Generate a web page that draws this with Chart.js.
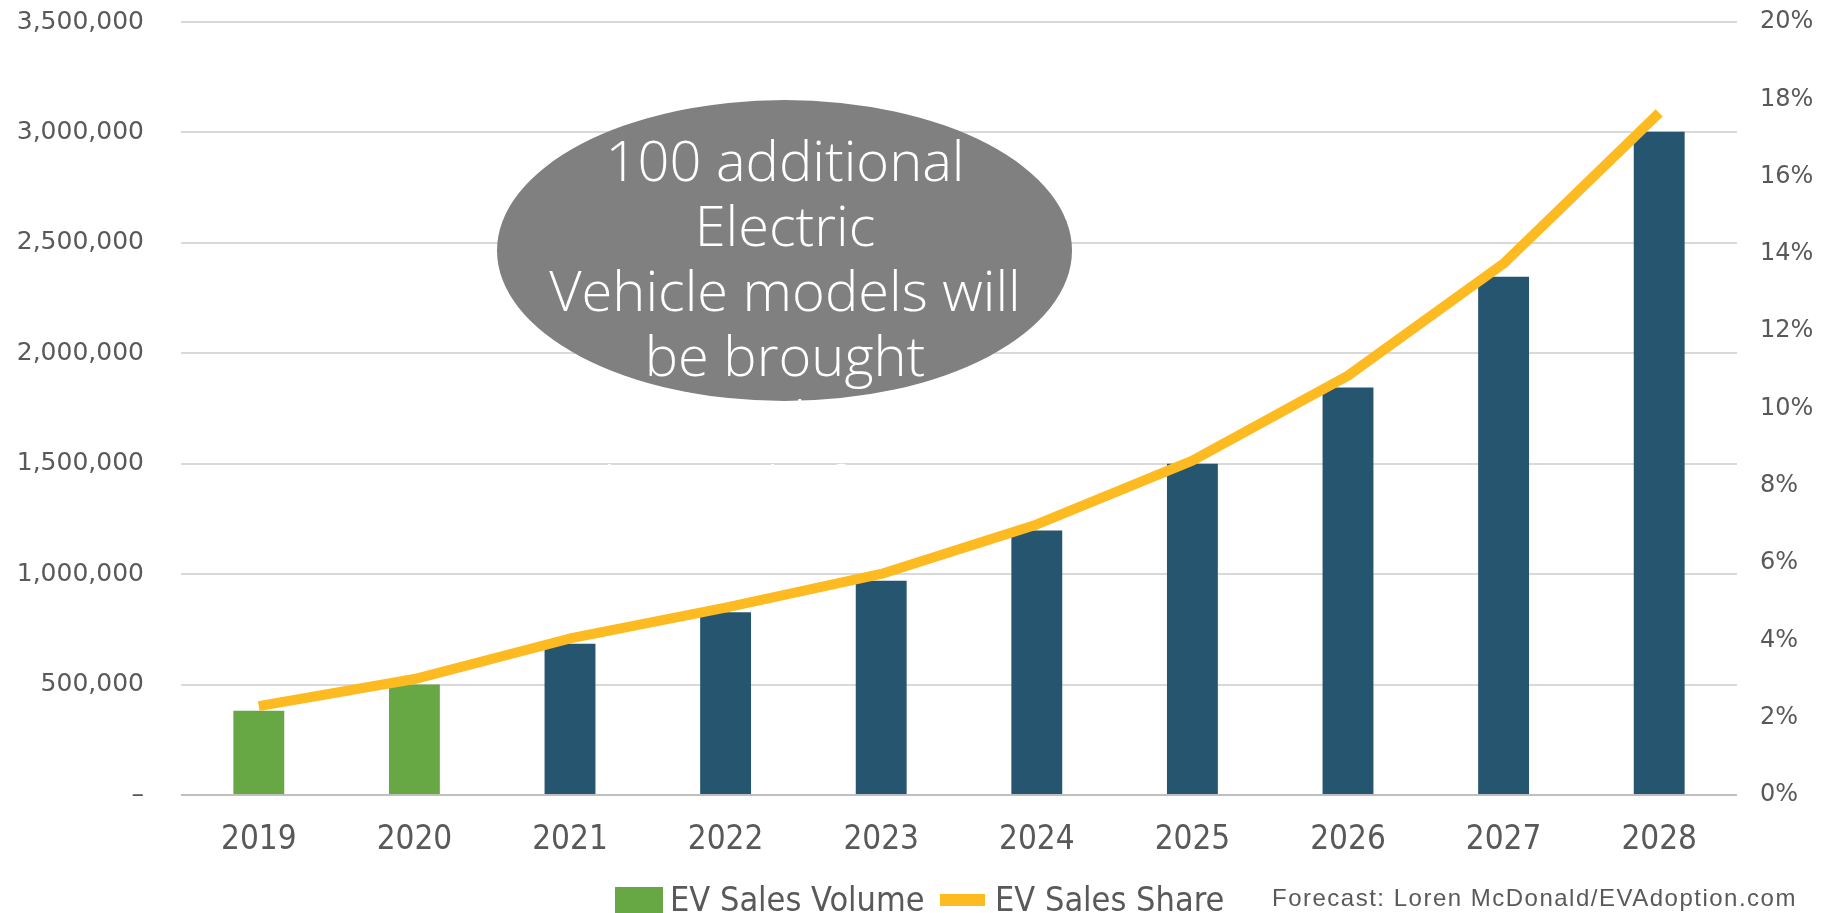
<!DOCTYPE html>
<html>
<head>
<meta charset="utf-8">
<title>EV Sales Forecast</title>
<script src="https://cdn.jsdelivr.net/npm/chart.js@4.4.1/dist/chart.umd.min.js"></script>
<style>
  html, body { margin: 0; padding: 0; background: #fff; }
  #wrap { position: relative; width: 1842px; height: 913px; overflow: hidden; }
  #chart { position: absolute; left: 0; top: 0; }
  /* grey callout bubble; the text runs past it in white, like the original text box */
  .callout { position: absolute; left: 497px; top: 100px; width: 575px; height: 301px;
             border-radius: 50%; background: #808080; }
  .callout-text { position: absolute; left: 435px; top: 127px; width: 700px; text-align: center;
                  color: #fff; font: 300 56px "Open Sans", sans-serif; line-height: 65px; white-space: nowrap; }
  .sw { position: absolute; }
  .lt { position: absolute; top: 879px; height: 40px; line-height: 40px; color: #595959; white-space: nowrap;
        font-family: "Liberation Sans Narrow", "DejaVu Sans Condensed", "Liberation Sans", sans-serif; font-size: 34px; }
  .src { position: absolute; left: 1272px; top: 884px; height: 30px; line-height: 30px; color: #595959;
         font: 24px "Liberation Sans", sans-serif; letter-spacing: 1.5px; white-space: nowrap; }
</style>
</head>
<body>
<div id="wrap">
  <canvas id="chart" width="1842" height="913"></canvas>
  <div class="callout"></div>
  <div class="callout-text">100 additional<br>Electric<br>Vehicle models will<br>be brought<br>to market by<br>the end of 2022</div>
  <div class="sw" style="left:615px;top:887px;width:48px;height:26px;background:#67A845"></div>
  <div class="lt" style="left:670px">EV Sales Volume</div>
  <div class="sw" style="left:940px;top:894px;width:45px;height:12px;background:#FDBB21"></div>
  <div class="lt" style="left:995px">EV Sales Share</div>
  <div class="src">Forecast: Loren McDonald/EVAdoption.com</div>
</div>
<script>
// values
const YEARS = ["2019", "2020", "2021", "2022", "2023", "2024", "2025", "2026", "2027", "2028"];
const SALES_VOLUME = [382000, 500000, 685000, 827000, 970000, 1198000, 1500000, 1845000, 2347000, 3003000];
const SALES_SHARE = [2.3, 3.0, 4.05, 4.85, 5.72, 7.0, 8.65, 10.85, 13.75, 17.65]; // percent
const ACTUAL_YEARS = 2; // first two years are actuals (green), the rest forecast

const VOLUME_MAX = 3500000, VOLUME_STEP = 500000;
const SHARE_MAX = 20, SHARE_STEP = 2;

const GREEN = "#67A845", BLUE = "#265570", ORANGE = "#FDBB21";
const TEXT = "#595959", GRID = "#D9D9D9", BASE = "#BFBFBF";
const NARROW = "'Liberation Sans Narrow', 'DejaVu Sans Condensed', 'Liberation Sans', sans-serif";

// fixed axis sizes so the plot area lands where the original's does;
// tick padding would otherwise leak into the top/bottom padding
function fixWidth(w) {
  return s => { s.width = w; s.paddingTop = 0; s.paddingBottom = 0; };
}

new Chart(document.getElementById("chart"), {
  data: {
    labels: YEARS,
    datasets: [
      {
        type: "line", label: "EV Sales Share", data: SALES_SHARE, yAxisID: "yShare",
        borderColor: ORANGE, borderWidth: 10, pointRadius: 0, tension: 0,
        borderCapStyle: "butt", borderJoinStyle: "round", order: 0
      },
      {
        type: "bar", label: "EV Sales Volume", data: SALES_VOLUME, yAxisID: "yVol",
        backgroundColor: YEARS.map((_, i) => i < ACTUAL_YEARS ? GREEN : BLUE),
        barPercentage: 0.327, categoryPercentage: 1, order: 1
      }
    ]
  },
  options: {
    responsive: false, animation: false,
    layout: { padding: { top: 22, left: 0, right: 0, bottom: 0 }, autoPadding: false },
    plugins: { legend: { display: false }, tooltip: { enabled: false } },
    scales: {
      x: {
        grid: { display: false, drawTicks: false }, border: { display: false },
        ticks: { color: TEXT, font: { family: NARROW, size: 33 }, padding: 26, maxRotation: 0 },
        afterFit: s => { s.height = 118; s.paddingLeft = 0; s.paddingRight = 0; }
      },
      yVol: {
        position: "left", min: 0, max: VOLUME_MAX,
        grid: { color: c => c.tick && c.tick.value === 0 ? BASE : GRID, lineWidth: 2, drawTicks: false },
        border: { display: false },
        ticks: {
          stepSize: VOLUME_STEP, color: TEXT, padding: 37,
          font: { family: "'DejaVu Sans', sans-serif", size: 25 },
          callback: v => v === 0 ? "–" : v.toLocaleString("en-US")
        },
        afterFit: fixWidth(181)
      },
      yShare: {
        position: "right", min: 0, max: SHARE_MAX,
        grid: { display: false, drawTicks: false }, border: { display: false },
        ticks: {
          stepSize: SHARE_STEP, color: TEXT, padding: 23,
          font: { family: "'DejaVu Sans', sans-serif", size: 24 },
          callback: v => v + "%"
        },
        afterFit: fixWidth(105)
      }
    }
  }
});
</script>
</body>
</html>
